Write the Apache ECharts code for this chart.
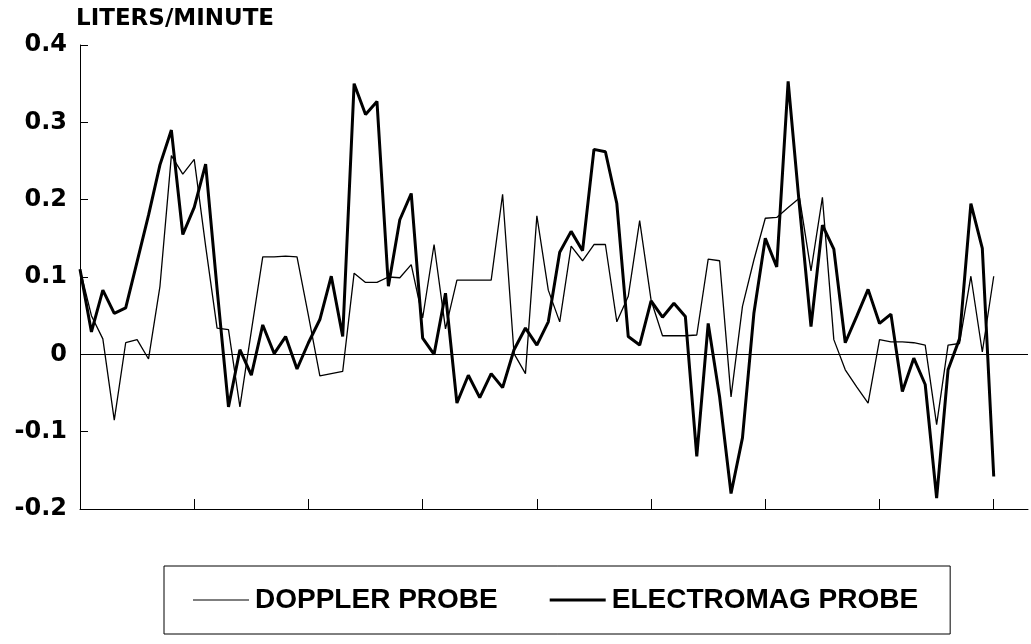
<!DOCTYPE html>
<html>
<head>
<meta charset="utf-8">
<script src="https://cdn.jsdelivr.net/npm/echarts@6/dist/echarts.min.js"></script>
<style>
html,body{margin:0;padding:0;background:#fff;}
#chart{width:1031px;height:644px;}
</style>
</head>
<body>
<div id="chart"></div>
<script>
// Sample index (x position) 0..80
var sampleIndex = [];
for (var k = 0; k <= 80; k++) sampleIndex.push(k);

var xTickValues = [10, 20, 30, 40, 50, 60, 70, 80];
var yTickLabels = ['-0.2', '-0.1', '0', '0.1', '0.2', '0.3', '0.4'];

var dopplerProbe = [
  0.11, 0.05, 0.02, -0.085, 0.015, 0.019, -0.006, 0.088, 0.257, 0.233,
  0.252, 0.14, 0.034, 0.032, -0.068, 0.03, 0.126, 0.126, 0.127, 0.126,
  0.05, -0.028, -0.025, -0.022, 0.105, 0.093, 0.093, 0.1, 0.099, 0.116,
  0.047, 0.142, 0.033, 0.096, 0.096, 0.096, 0.096, 0.207, 0.001, -0.025,
  0.179, 0.083, 0.042, 0.14, 0.121, 0.142, 0.142, 0.042, 0.075, 0.173,
  0.07, 0.024, 0.024, 0.024, 0.025, 0.123, 0.121, -0.055, 0.062, 0.122,
  0.176, 0.177, 0.19, 0.202, 0.108, 0.203, 0.019, -0.02, -0.042, -0.063,
  0.019, 0.016, 0.016, 0.015, 0.012, -0.091, 0.012, 0.014, 0.101, 0.003,
  0.101
];

var electromagProbe = [
  0.11, 0.029, 0.083, 0.053, 0.06, 0.12, 0.18, 0.245, 0.29, 0.155,
  0.19, 0.246, 0.085, -0.068, 0.006, -0.027, 0.038, 0.001, 0.023, -0.019,
  0.015, 0.045, 0.101, 0.023, 0.35, 0.31, 0.327, 0.088, 0.174, 0.208,
  0.021, 0.0, 0.079, -0.063, -0.027, -0.056, -0.025, -0.043, 0.006, 0.034,
  0.012, 0.042, 0.132, 0.159, 0.134, 0.265, 0.262, 0.195, 0.023, 0.012,
  0.069, 0.048, 0.066, 0.049, -0.132, 0.04, -0.055, -0.18, -0.108, 0.053,
  0.15, 0.113, 0.353, 0.19, 0.036, 0.167, 0.136, 0.015, 0.049, 0.084,
  0.04, 0.052, -0.048, -0.005, -0.039, -0.186, -0.02, 0.02, 0.195, 0.137,
  -0.158
];

function pairs(vals) {
  return sampleIndex.map(function (x, i) { return [x, vals[i]]; });
}

// legend icons: a horizontal bar in the middle of a 56x28 box (corner dots keep the box size)
var thinIcon = 'path://M0,0 L0.01,0 L0.01,0.01 Z M0,13.4 L56,13.4 L56,14.6 L0,14.6 Z M55.99,27.99 L56,27.99 L56,28 Z';
var thickIcon = 'path://M0,0 L0.01,0 L0.01,0.01 Z M0,12.5 L56,12.5 L56,15.5 L0,15.5 Z M55.99,27.99 L56,27.99 L56,28 Z';

var chart = echarts.init(document.getElementById('chart'), null, {renderer: 'canvas'});
chart.setOption({
  backgroundColor: '#ffffff',
  animation: false,
  title: {
    text: 'LITERS/MINUTE',
    left: 76,
    top: 8,
    padding: 0,
    textStyle: {fontFamily: 'DejaVu Sans', fontWeight: 'bold', fontSize: 23, color: '#000'}
  },
  grid: {left: 80, right: 3, top: 45, bottom: 135, containLabel: false},
  xAxis: {
    type: 'value',
    min: 0,
    max: 83,
    axisLine: {show: true, onZero: false, lineStyle: {color: '#000', width: 1}},
    axisTick: {show: true, inside: true, length: 10, customValues: xTickValues, lineStyle: {color: '#000', width: 1}},
    axisLabel: {show: false},
    splitLine: {show: false}
  },
  yAxis: {
    type: 'value',
    min: -0.2,
    max: 0.4,
    interval: 0.1,
    axisLine: {show: true, lineStyle: {color: '#000', width: 1}},
    axisTick: {show: true, inside: true, length: 8, lineStyle: {color: '#000', width: 1}},
    axisLabel: {
      margin: 13,
      fontFamily: 'DejaVu Sans',
      fontWeight: 'bold',
      fontSize: 24,
      color: '#000',
      padding: [8, 0, 0, 0],
      formatter: function (v) {
        var idx = Math.round((v + 0.2) / 0.1);
        return yTickLabels[idx];
      }
    },
    splitLine: {show: false}
  },
  legend: {
    show: true,
    left: 164,
    top: 566,
    orient: 'horizontal',
    borderColor: '#000',
    borderWidth: 1,
    padding: [20, 32, 20, 29],
    itemWidth: 58,
    itemHeight: 28,
    itemGap: 52,
    textStyle: {fontFamily: 'Liberation Sans', fontWeight: 'bold', fontSize: 28, color: '#000'},
    data: [
      {name: 'DOPPLER PROBE', icon: thinIcon},
      {name: 'ELECTROMAG PROBE', icon: thickIcon}
    ]
  },
  series: [
    {
      name: 'DOPPLER PROBE',
      type: 'line',
      data: pairs(dopplerProbe),
      showSymbol: false,
      symbol: 'none',
      lineStyle: {color: '#000', width: 1.3},
      itemStyle: {color: '#000'},
      markLine: {
        silent: true,
        symbol: ['none', 'none'],
        label: {show: false},
        lineStyle: {color: '#000', width: 1, type: 'solid'},
        data: [{yAxis: 0}]
      },
      z: 3
    },
    {
      name: 'ELECTROMAG PROBE',
      type: 'line',
      data: pairs(electromagProbe),
      showSymbol: false,
      symbol: 'none',
      lineStyle: {color: '#000', width: 3},
      itemStyle: {color: '#000'},
      z: 4
    }
  ]
});
</script>
</body>
</html>
